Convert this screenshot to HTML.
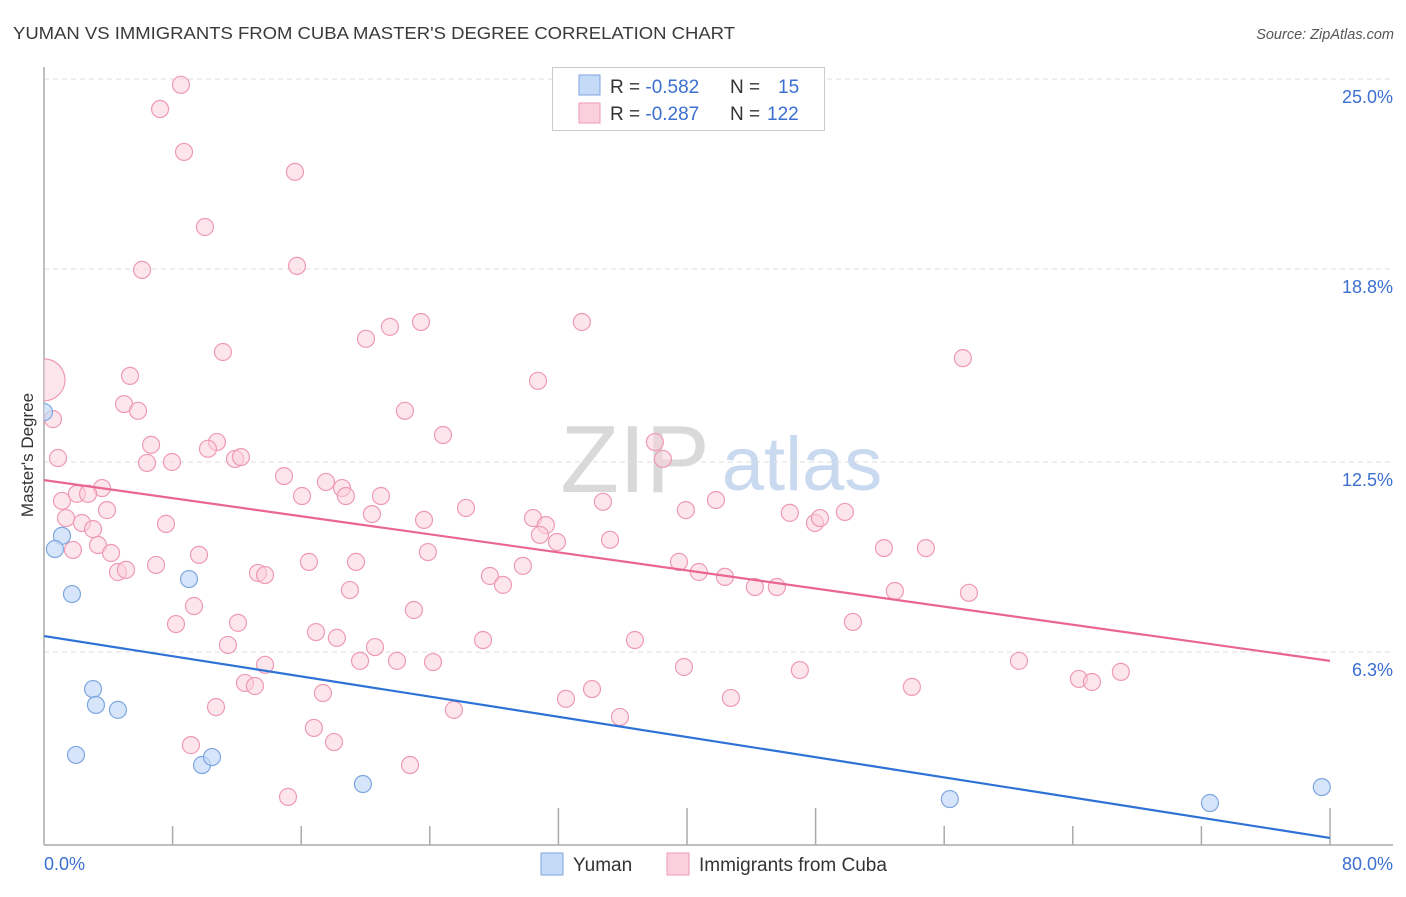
<!DOCTYPE html>
<html><head><meta charset="utf-8"><style>
body{margin:0;background:#fff;font-family:"Liberation Sans",sans-serif}
svg text{font-family:"Liberation Sans",sans-serif}
</style></head><body>
<svg id="c" width="1406" height="892" xmlns="http://www.w3.org/2000/svg">
<defs><clipPath id="plot"><rect x="44" y="60" width="1360" height="786"/></clipPath></defs>
<text x="13" y="39" font-size="17.5" fill="#3a3a3a" textLength="722" lengthAdjust="spacingAndGlyphs">YUMAN VS IMMIGRANTS FROM CUBA MASTER'S DEGREE CORRELATION CHART</text>
<text x="1394" y="39" font-size="14.5" fill="#555" font-style="italic" text-anchor="end">Source: ZipAtlas.com</text>
<text x="635" y="492" font-size="96" fill="#d9d9d9" font-family="Liberation Serif" text-anchor="middle">ZIP</text>
<text x="802" y="490" font-size="76" fill="#c9daf0" text-anchor="middle">atlas</text>
<text transform="translate(33,455) rotate(-90)" font-size="17" fill="#333" text-anchor="middle">Master's Degree</text>
<g id="grid"></g><g id="marks" clip-path="url(#plot)"></g>
<g>
<rect x="552.5" y="67.5" width="272" height="63" fill="#fff" stroke="#ccc"/>
<rect x="579" y="75" width="21" height="20" fill="#c5daf7" stroke="#7ea6e0"/>
<rect x="579" y="103" width="21" height="20" fill="#fbd0dd" stroke="#ef9ab5"/>
<text x="610" y="93" font-size="19" fill="#333">R = <tspan fill="#3b6fd0">-0.582</tspan><tspan x="730">N = </tspan><tspan x="778" fill="#3b6fd0">15</tspan></text>
<text x="610" y="120" font-size="19" fill="#333">R = <tspan fill="#3b6fd0">-0.287</tspan><tspan x="730">N = </tspan><tspan x="767" fill="#3b6fd0">122</tspan></text>
</g>
<rect x="541" y="853" width="22" height="22" fill="#c5daf7" stroke="#7ea6e0"/>
<text x="573" y="871" font-size="19" fill="#333">Yuman</text>
<rect x="667" y="853" width="22" height="22" fill="#fbd0dd" stroke="#ef9ab5"/>
<text x="699" y="871" font-size="19" fill="#333">Immigrants from Cuba</text>
</svg>
<script>
const yTicks=[25.0,18.8,12.5,6.3];
const yTickLabels=["25.0%","18.8%","12.5%","6.3%"];
const xTickLabels=["0.0%","80.0%"];
const yumanX=[0,1.12,0.68,1.74,9.02,3.05,3.23,4.60,1.99,9.83,10.45,19.84,56.35,72.53,79.49];
const yumanY=[14.13,10.09,9.66,8.19,8.68,5.09,4.57,4.41,2.94,2.61,2.87,1.99,1.50,1.37,1.89];
const cubaX=[0,8.52,7.22,8.71,15.61,10.01,6.10,15.74,23.45,33.46,21.52,20.03,11.13,57.16,5.35,30.73,0.56,4.98,5.85,22.45,24.82,6.66,10.76,38.00,0.87,6.41,7.96,10.20,11.88,12.25,38.50,14.93,17.54,18.54,18.78,20.96,3.61,2.05,2.74,1.12,16.05,34.77,41.80,26.25,39.93,46.40,49.82,3.92,1.37,2.36,3.05,20.40,23.64,30.42,31.22,47.96,48.27,30.85,31.91,35.21,3.36,1.80,4.17,7.59,23.88,52.25,54.86,9.64,16.48,19.41,29.79,39.50,6.97,4.60,5.10,13.31,13.75,27.74,28.55,40.74,42.36,44.22,45.59,52.93,57.54,19.03,9.33,23.01,8.21,12.07,50.32,16.92,18.22,11.44,27.31,36.76,20.59,13.75,19.66,21.96,24.20,39.81,47.02,60.65,64.38,65.19,66.99,12.50,13.12,17.35,34.09,32.47,42.73,53.99,10.70,25.50,35.83,16.79,9.14,18.04,22.77,15.18];
const cubaY=[15.18,24.81,24.02,22.62,21.97,20.17,18.77,18.90,17.07,17.07,16.91,16.52,16.09,15.89,15.31,15.15,13.90,14.39,14.17,14.17,13.38,13.06,13.15,13.15,12.63,12.47,12.50,12.93,12.60,12.66,12.60,12.04,11.85,11.65,11.39,11.39,11.65,11.46,11.46,11.23,11.39,11.20,11.26,11.00,10.93,10.84,10.87,10.93,10.67,10.51,10.31,10.80,10.61,10.67,10.44,10.51,10.67,10.12,9.89,9.96,9.79,9.63,9.53,10.48,9.56,9.69,9.69,9.47,9.24,9.24,9.11,9.24,9.14,8.91,8.98,8.88,8.81,8.78,8.49,8.91,8.75,8.42,8.42,8.29,8.23,8.32,7.80,7.67,7.21,7.25,7.28,6.95,6.76,6.53,6.69,6.69,6.46,5.88,6.01,6.01,5.97,5.81,5.71,6.01,5.42,5.32,5.65,5.29,5.19,4.96,5.09,4.77,4.80,5.16,4.50,4.41,4.18,3.82,3.26,3.36,2.61,1.57];
const cubaWeight=[6];
const yumanTrend=[6.82,0.23];
const cubaTrend=[11.91,6.01];
const X=v=>44+v*(1330-44)/80;
const Y=v=>845-v*30.64;
const NS="http://www.w3.org/2000/svg";
function mk(t,a,p){const e=document.createElementNS(NS,t);for(const k in a)e.setAttribute(k,a[k]);p.appendChild(e);return e;}
const grid=document.getElementById('grid'),marks=document.getElementById('marks');
yTicks.forEach((t,i)=>{
  const l=mk('line',{x1:44,x2:1393,y1:Y(t),y2:Y(t),stroke:'#ddd','stroke-dasharray':'5,4'},grid);
  
  
  const tx=mk('text',{x:1393,y:Y(t)+24,'font-size':18,fill:'#3b6fd0','text-anchor':'end'},grid);
  tx.textContent=yTickLabels[i];
  
  
});
const ax=mk('line',{x1:44,x2:44,y1:67,y2:845,stroke:'#aaa','stroke-width':1.5},grid);


const bx=mk('line',{x1:44,x2:1393,y1:845,y2:845,stroke:'#aaa','stroke-width':1.5},grid);


for(let k=1;k<=10;k++){
  const long=[4,5,6,10].includes(k);
  const t=mk('line',{x1:X(k*8),x2:X(k*8),y1:long?808:826,y2:845,stroke:'#aaa','stroke-width':1.5},grid);
  
  
}
[[0,'start',44],[80,'end',1393]].forEach((d,i)=>{
  const t=mk('text',{x:d[2],y:870,'font-size':18,fill:'#3b6fd0','text-anchor':d[1]},grid);
  t.textContent=xTickLabels[i];
  
  
});
cubaX.forEach((x,i)=>{
  const w=cubaWeight[i]||1;
  const c=mk('circle',{cx:X(x),cy:Y(cubaY[i]),r:w>1?21:8.5,fill:'#fbd0dd','fill-opacity':0.55,stroke:'#ee9ab4','stroke-width':1.2},marks);
  
  
});
yumanX.forEach((x,i)=>{
  const c=mk('circle',{cx:X(x),cy:Y(yumanY[i]),r:8.5,fill:'#c5daf7','fill-opacity':0.7,stroke:'#7ea6e0','stroke-width':1.2},marks);
  
  
});
const tc=mk('line',{x1:X(0),x2:X(80),y1:Y(cubaTrend[0]),y2:Y(cubaTrend[1]),stroke:'#e8668f','stroke-width':2.2},marks);


const ty=mk('line',{x1:X(0),x2:X(80),y1:Y(yumanTrend[0]),y2:Y(yumanTrend[1]),stroke:'#2f72d6','stroke-width':2.2},marks);


</script>
</body></html>
